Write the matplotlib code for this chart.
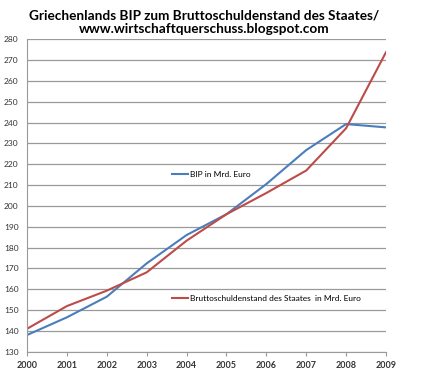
import matplotlib
matplotlib.use("Agg")
import matplotlib.pyplot as plt
from matplotlib.lines import Line2D

years = [2000, 2001, 2002, 2003, 2004, 2005, 2006, 2007, 2008, 2009]
bip = [138.0, 146.5, 156.4, 172.4, 186.0, 196.0, 210.5, 226.8, 239.3, 237.7]
schulden = [141.0, 151.9, 159.3, 168.1, 183.3, 196.0, 206.2, 217.0, 237.3, 273.8]
yticks = list(range(130, 281, 10))

blue = "#4a7ebb"
red = "#be4b48"

plt.rcParams["font.family"] = ["Lato", "DejaVu Sans"]

fig = plt.figure(figsize=(4.47, 3.71), dpi=100)
ax = fig.add_axes([27 / 447, 1 - 351.7 / 371, 359 / 447, 312.4 / 371])

ax.plot(years, bip, color=blue, lw=1.5)
ax.plot(years, schulden, color=red, lw=1.5)

ax.set_xlim(2000, 2009)
ax.set_ylim(130, 280)
ax.set_xticks(years)
ax.set_xticklabels([str(y) for y in years], fontsize=6.5, fontweight="bold", color="#333333")
ax.set_yticks(yticks)
ax.set_yticklabels([str(v) for v in yticks], fontsize=6, color="#333333")
ax.yaxis.grid(True, color="#9a9a9a", lw=0.9)
ax.set_axisbelow(True)
for s in ["top", "right"]:
    ax.spines[s].set_visible(False)
ax.spines["left"].set_color("#9a9a9a")
ax.spines["bottom"].set_color("#9a9a9a")
ax.tick_params(axis="x", length=3, color="#9a9a9a", pad=4)
ax.tick_params(axis="y", length=0, pad=6)

# Legendeneinträge wie im Excel-Diagramm verteilt
h1 = Line2D([], [], color=blue, lw=1.5)
h2 = Line2D([], [], color=red, lw=1.5)
leg1 = ax.legend([h1], ["BIP in Mrd. Euro"], loc="center left",
                 bbox_to_anchor=(0.405, 0.566), frameon=False, fontsize=6,
                 handlelength=1.9, handletextpad=0.2, borderpad=0, borderaxespad=0)
ax.add_artist(leg1)
ax.legend([h2], ["Bruttoschuldenstand des Staates  in Mrd. Euro"], loc="center left",
          bbox_to_anchor=(0.405, 0.169), frameon=False, fontsize=6,
          handlelength=1.9, handletextpad=0.2, borderpad=0, borderaxespad=0)

fig.text(0.456, 0.975, "Griechenlands BIP zum Bruttoschuldenstand des Staates/\nwww.wirtschaftquerschuss.blogspot.com",
         ha="center", va="top", fontsize=9.8, fontweight="bold", linespacing=1.2)

fig.savefig("out.png", dpi=100)
